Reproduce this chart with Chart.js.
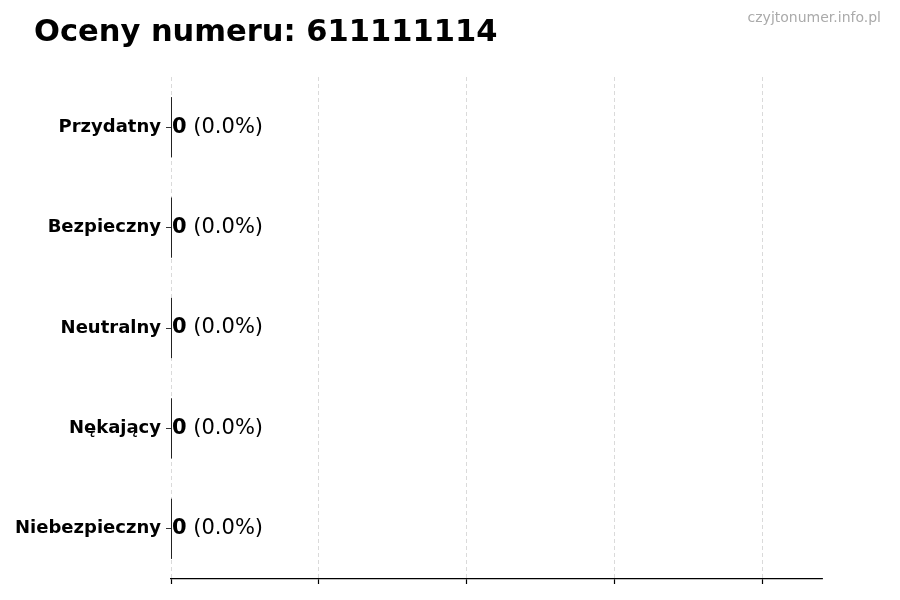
<!DOCTYPE html>
<html>
<head>
<meta charset="utf-8">
<script src="https://cdn.jsdelivr.net/npm/chart.js@4"></script>
<style>
  html, body { margin: 0; padding: 0; background: #fff; }
  canvas { display: block; }
</style>
</head>
<body>
<canvas id="ratingChart" width="900" height="600" style="width:900px;height:600px"></canvas>
<script>
// ratings for the number (all zero)
var categories = ['Przydatny', 'Bezpieczny', 'Neutralny', 'Nękający', 'Niebezpieczny'];
var counts = [0, 0, 0, 0, 0];
var percents = [0.0, 0.0, 0.0, 0.0, 0.0];
var xTicks = [0, 1, 2, 3, 4];

var titleText = 'Oceny numeru: 611111114';
var siteText = 'czyjtonumer.info.pl';

// title and watermark
var headerPlugin = {
    id: 'header',
    afterDraw: function(chart) {
        var ctx = chart.ctx;
        ctx.save();
        ctx.fillStyle = '#000';
        ctx.font = 'bold 30.5px "DejaVu Sans"';
        ctx.textAlign = 'left';
        ctx.textBaseline = 'alphabetic';
        ctx.fillText(titleText, 34, 41);
        ctx.fillStyle = '#aaaaaa';
        ctx.font = '14px "DejaVu Sans"';
        ctx.textAlign = 'right';
        ctx.textBaseline = 'middle';
        ctx.fillText(siteText, 881, 18);
        ctx.restore();
    }
};

// zero width bars still get their edge line, plus the value labels
var barLabels = {
    id: 'barLabels',
    afterDatasetsDraw: function(chart) {
        var ctx = chart.ctx;
        var meta = chart.getDatasetMeta(0);
        ctx.save();
        meta.data.forEach(function(bar, i) {
            var h = bar.height;
            ctx.strokeStyle = '#222';
            ctx.lineWidth = 1;
            ctx.beginPath();
            ctx.moveTo(bar.x + 0.5, bar.y - h / 2);
            ctx.lineTo(bar.x + 0.5, bar.y + h / 2);
            ctx.stroke();

            var x = bar.x + 1;
            ctx.textBaseline = 'middle';
            ctx.textAlign = 'left';
            ctx.fillStyle = '#000';
            ctx.font = 'bold 21px "DejaVu Sans"';
            var num = String(counts[i]);
            ctx.fillText(num, x, bar.y);
            x += ctx.measureText(num).width;
            ctx.font = '21px "DejaVu Sans"';
            ctx.fillText(' (' + percents[i].toFixed(1) + '%)', x, bar.y);
        });
        ctx.restore();
    }
};

var ctx = document.getElementById('ratingChart').getContext('2d');
var chart = new Chart(ctx, {
    type: 'bar',
    data: {
        labels: categories,
        datasets: [{
            data: counts,
            backgroundColor: '#4caf50',
            borderWidth: 0,
            barPercentage: 0.6,
            categoryPercentage: 1.0
        }]
    },
    options: {
        indexAxis: 'y',
        responsive: false,
        animation: false,
        devicePixelRatio: 1,
        layout: { padding: { top: 77, right: 78, bottom: 0, left: 0 } },
        plugins: {
            legend: { display: false },
            tooltip: { enabled: false }
        },
        scales: {
            x: {
                min: 0,
                max: 4.4,
                afterBuildTicks: function(scale) {
                    scale.ticks = xTicks.map(function(v) { return { value: v }; });
                },
                ticks: { display: false },
                grid: {
                    color: '#d0d0d0',
                    lineWidth: 0.8,
                    tickLength: 5,
                    tickColor: '#000',
                    tickWidth: 1.2,
                    tickBorderDash: []
                },
                border: { display: true, color: '#000', width: 1.3, dash: [4, 3] },
                afterFit: function(scale) { scale.height = 21; }
            },
            y: {
                ticks: {
                    color: '#000',
                    padding: 5,
                    font: { family: 'DejaVu Sans', size: 18, weight: 'bold' }
                },
                grid: {
                    offset: false,
                    drawOnChartArea: false,
                    tickLength: 5,
                    tickColor: '#333',
                    tickWidth: 1
                },
                border: { display: false },
                afterFit: function(scale) { scale.width = 171; }
            }
        }
    },
    plugins: [headerPlugin, barLabels]
});
</script>
</body>
</html>
